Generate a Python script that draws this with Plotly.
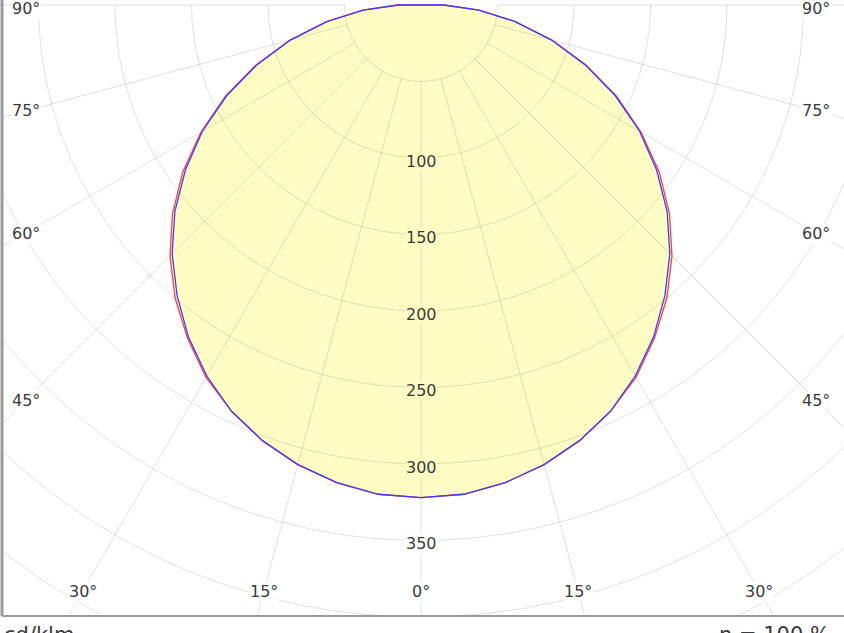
import numpy as np
import plotly.graph_objects as go

# ---- data (cd/klm) ----
gamma_deg = [0, 5, 10, 15, 20, 25, 30, 35, 40, 45, 50, 55, 60, 65, 70, 75, 80, 85, 90]
c0_c180 = [322, 321, 317, 311, 303, 293, 281, 266, 250, 232, 212, 190, 166, 141, 115, 89, 63, 38, 15]
c90_c270 = [322, 321, 317, 311, 303, 293, 280, 265, 248, 230, 210, 188, 165, 140, 114, 88, 62, 38, 15]
ring_values = [50, 100, 150, 200, 250, 300, 350, 400, 450]
ring_labels = [100, 150, 200, 250, 300, 350]
ray_angles = [-90, -75, -60, -45, -30, -15, 0, 15, 30, 45, 60, 75, 90]
side_labels = [90, 75, 60, 45]
bottom_labels = [-30, -15, 0, 15, 30]

# ---- layout geometry ----
W, H = 844, 633
S = 1.53                  # px per cd/klm
CX, CY = 421, 5           # pole position in px
L, B = 2, 17              # margins
plot_bottom = H - B

x_range = [(L - CX) / S, (W - CX) / S]
y_range = [-(plot_bottom - CY) / S, CY / S]

FILL = "#FFFDC4"
GRID = "rgba(0,0,0,0.12)"
TXT = "#3a3a3a"
FONT = "DejaVu Sans"


def polar_xy(angles_deg, radii):
    a = np.radians(np.asarray(angles_deg, dtype=float))
    r = np.asarray(radii, dtype=float)
    return r * np.sin(a), -r * np.cos(a)


def full_curve(vals):
    ang = [-g for g in gamma_deg[::-1]] + gamma_deg[1:] + [-gamma_deg[-1]]
    rad = vals[::-1] + vals[1:] + [vals[-1]]
    return polar_xy(ang, rad)


fig = go.Figure()

# filled area
fx, fy = full_curve(c0_c180)
fig.add_trace(go.Scatter(x=fx, y=fy, mode="lines", fill="toself", fillcolor=FILL,
                         line=dict(width=0, color=FILL), hoverinfo="skip", showlegend=False))

# rings
th = np.linspace(-90, 90, 361)
for r in ring_values:
    gx, gy = polar_xy(th, [r] * len(th))
    fig.add_trace(go.Scatter(x=gx, y=gy, mode="lines", line=dict(color=GRID, width=1),
                             hoverinfo="skip", showlegend=False))

# rays (start at first ring)
for a in ray_angles:
    gx, gy = polar_xy([a, a], [ring_values[0], 700])
    fig.add_trace(go.Scatter(x=gx, y=gy, mode="lines", line=dict(color=GRID, width=1),
                             hoverinfo="skip", showlegend=False))

# curves
rx, ry = full_curve(c0_c180)
fig.add_trace(go.Scatter(x=rx, y=ry, mode="lines", line=dict(color="#ff3c3c", width=1.3),
                         name="C0-C180", showlegend=False))
bx, by = full_curve(c90_c270)
fig.add_trace(go.Scatter(x=bx, y=by, mode="lines", line=dict(color="#3c3cff", width=1.3),
                         name="C90-C270", showlegend=False))

annotations = []
# radial labels
for v in ring_labels:
    bg = FILL if v < max(c0_c180) else "white"
    annotations.append(dict(x=0, y=-v, xref="x", yref="y", text=str(v), showarrow=False,
                            font=dict(family=FONT, size=16, color=TXT), bgcolor=bg,
                            borderpad=0, yshift=-3))
# side labels
for a in side_labels:
    ar = np.radians(a)
    for px in (26, 816):
        xx = (px - CX) / S
        yy = -abs(xx) / np.tan(ar) if a != 90 else -3 / S
        annotations.append(dict(x=xx, y=yy, xref="x", yref="y", text=f"{a}°", showarrow=False,
                                font=dict(family=FONT, size=16, color=TXT), bgcolor="white",
                                borderpad=0))
# bottom labels
bot_y = -(591 - CY) / S
for a in bottom_labels:
    xx = abs(bot_y) * np.tan(np.radians(a))
    annotations.append(dict(x=xx, y=bot_y, xref="x", yref="y", text=f"{abs(a)}°", showarrow=False,
                            font=dict(family=FONT, size=16, color=TXT), bgcolor="white",
                            borderpad=0))
# footer texts
annotations.append(dict(x=0, y=0, xref="paper", yref="paper", xanchor="left", yanchor="top",
                        xshift=0, yshift=-5, text="cd/klm", showarrow=False,
                        font=dict(family=FONT, size=21, color=TXT)))
annotations.append(dict(x=1, y=0, xref="paper", yref="paper", xanchor="right", yanchor="top",
                        xshift=-12, yshift=-5, text="η = 100 %", showarrow=False,
                        font=dict(family=FONT, size=21, color=TXT)))

shapes = [
    dict(type="line", xref="paper", yref="paper", x0=0, x1=0, y0=0, y1=1,
         line=dict(color="#9a9a9a", width=3)),
    dict(type="line", xref="paper", yref="paper", x0=0, x1=1, y0=0, y1=0,
         line=dict(color="#9a9a9a", width=2)),
]

fig.update_layout(
    width=W, height=H,
    margin=dict(l=L, r=0, t=0, b=B, pad=0),
    paper_bgcolor="white", plot_bgcolor="white",
    xaxis=dict(range=x_range, visible=False, fixedrange=True),
    yaxis=dict(range=y_range, visible=False, fixedrange=True),
    annotations=annotations, shapes=shapes,
    showlegend=False,
)

fig.write_html("out.html")
